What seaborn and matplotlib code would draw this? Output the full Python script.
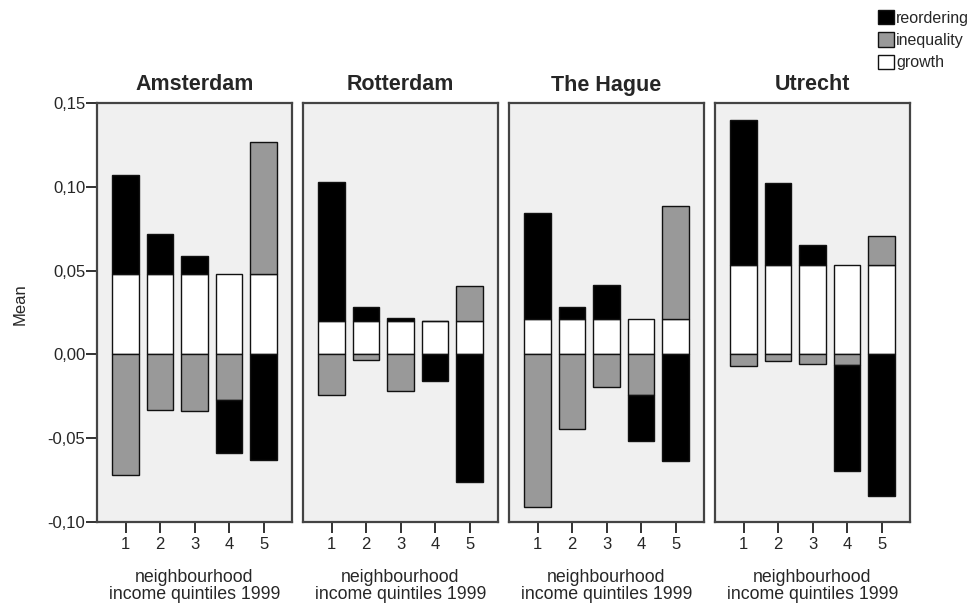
import matplotlib
matplotlib.use("Agg")
import matplotlib.pyplot as plt
import seaborn as sns
import pandas as pd
from matplotlib.patches import Patch

# ---- data -------------------------------------------------------------
cities = ["Amsterdam", "Rotterdam", "The Hague", "Utrecht"]
quintiles = [1, 2, 3, 4, 5]
components = ["growth", "inequality", "reordering"]
legend_order = ["reordering", "inequality", "growth"]

growth_ams = [0.048, 0.048, 0.048, 0.048, 0.048]
inequality_ams = [-0.072, -0.033, -0.034, -0.027, 0.079]
reordering_ams = [0.059, 0.024, 0.011, -0.032, -0.063]

growth_rot = [0.020, 0.020, 0.020, 0.020, 0.020]
inequality_rot = [-0.024, -0.0035, -0.022, 0.0, 0.021]
reordering_rot = [0.083, 0.0085, 0.0015, -0.016, -0.076]

growth_hag = [0.021, 0.021, 0.021, 0.021, 0.021]
inequality_hag = [-0.091, -0.0445, -0.0195, -0.0245, 0.0675]
reordering_hag = [0.0635, 0.007, 0.0205, -0.027, -0.0635]

growth_utr = [0.0535, 0.0535, 0.0535, 0.0535, 0.0535]
inequality_utr = [-0.0068, -0.004, -0.0055, -0.0065, 0.0172]
reordering_utr = [0.0865, 0.0485, 0.012, -0.063, -0.0845]

y_ticks = [-0.10, -0.05, 0.00, 0.05, 0.10, 0.15]
y_tick_labels = ["-0,10", "-0,05", "0,00", "0,05", "0,10", "0,15"]

city_data = {
    "Amsterdam": {"growth": growth_ams, "inequality": inequality_ams, "reordering": reordering_ams},
    "Rotterdam": {"growth": growth_rot, "inequality": inequality_rot, "reordering": reordering_rot},
    "The Hague": {"growth": growth_hag, "inequality": inequality_hag, "reordering": reordering_hag},
    "Utrecht": {"growth": growth_utr, "inequality": inequality_utr, "reordering": reordering_utr},
}

colors = {"reordering": "#000000", "inequality": "#999999", "growth": "#ffffff"}

# ---- style ------------------------------------------------------------
sns.set_style("ticks")
plt.rcParams["font.family"] = ["Liberation Sans", "DejaVu Sans"]

fig = plt.figure(figsize=(9.8, 6.04), dpi=100)
fig.patch.set_facecolor("white")

W, H = 980.0, 604.0
ax_w = 195
ax_top, ax_bot = 103, 522
lefts = [97, 303, 509, 715]

for i, city in enumerate(cities):
    ax = fig.add_axes([lefts[i] / W, (H - ax_bot) / H, ax_w / W, (ax_bot - ax_top) / H])
    ax.set_facecolor("#f0f0f0")
    pos_cum = [0.0] * len(quintiles)
    neg_cum = [0.0] * len(quintiles)
    for comp in components:
        vals = city_data[city][comp]
        bottoms = []
        for j, v in enumerate(vals):
            if v >= 0:
                bottoms.append(pos_cum[j])
                pos_cum[j] += v
            else:
                bottoms.append(neg_cum[j])
                neg_cum[j] += v
        df = pd.DataFrame({"quintile": quintiles, "value": vals})
        sns.barplot(data=df, x="quintile", y="value", bottom=bottoms,
                    color=colors[comp], saturation=1, width=0.77,
                    edgecolor="#111111", linewidth=1.0, errorbar=None, ax=ax)
    ax.set_xlim(-0.83, 4.82)
    ax.set_ylim(-0.10, 0.15)
    ax.set_xticks(range(len(quintiles)))
    ax.set_xticklabels([str(q) for q in quintiles], fontsize=12)
    ax.tick_params(axis="x", length=8, width=1.3, color="#222222", pad=3)
    if i == 0:
        ax.set_yticks(y_ticks)
        ax.set_yticklabels(y_tick_labels, fontsize=12)
        ax.tick_params(axis="y", length=8, width=1.3, color="#222222", pad=0.5)
    else:
        ax.set_yticks([])
    ax.set_ylabel("")
    ax.set_xlabel("neighbourhood\nincome quintiles 1999", fontsize=12.8,
                  labelpad=12, linespacing=0.98)
    ax.set_title(city, fontsize=15.5, fontweight="bold", pad=9)
    for sp in ax.spines.values():
        sp.set_visible(True)
        sp.set_color("#444444")
        sp.set_linewidth(1.6)

fig.text(20 / W, 1 - 304 / H, "Mean", rotation=90, ha="center", va="center", fontsize=12)

handles = [Patch(facecolor=colors[c], edgecolor="#111111", linewidth=1.0) for c in legend_order]
fig.legend(handles=handles, labels=legend_order, loc="upper left",
           bbox_to_anchor=(878 / W, 1 - 10 / H), frameon=False, fontsize=11.5,
           handlelength=1.0, handleheight=1.0, handletextpad=0.12,
           labelspacing=0.42, borderpad=0, borderaxespad=0)

fig.savefig("out.png", dpi=100, facecolor="white")
